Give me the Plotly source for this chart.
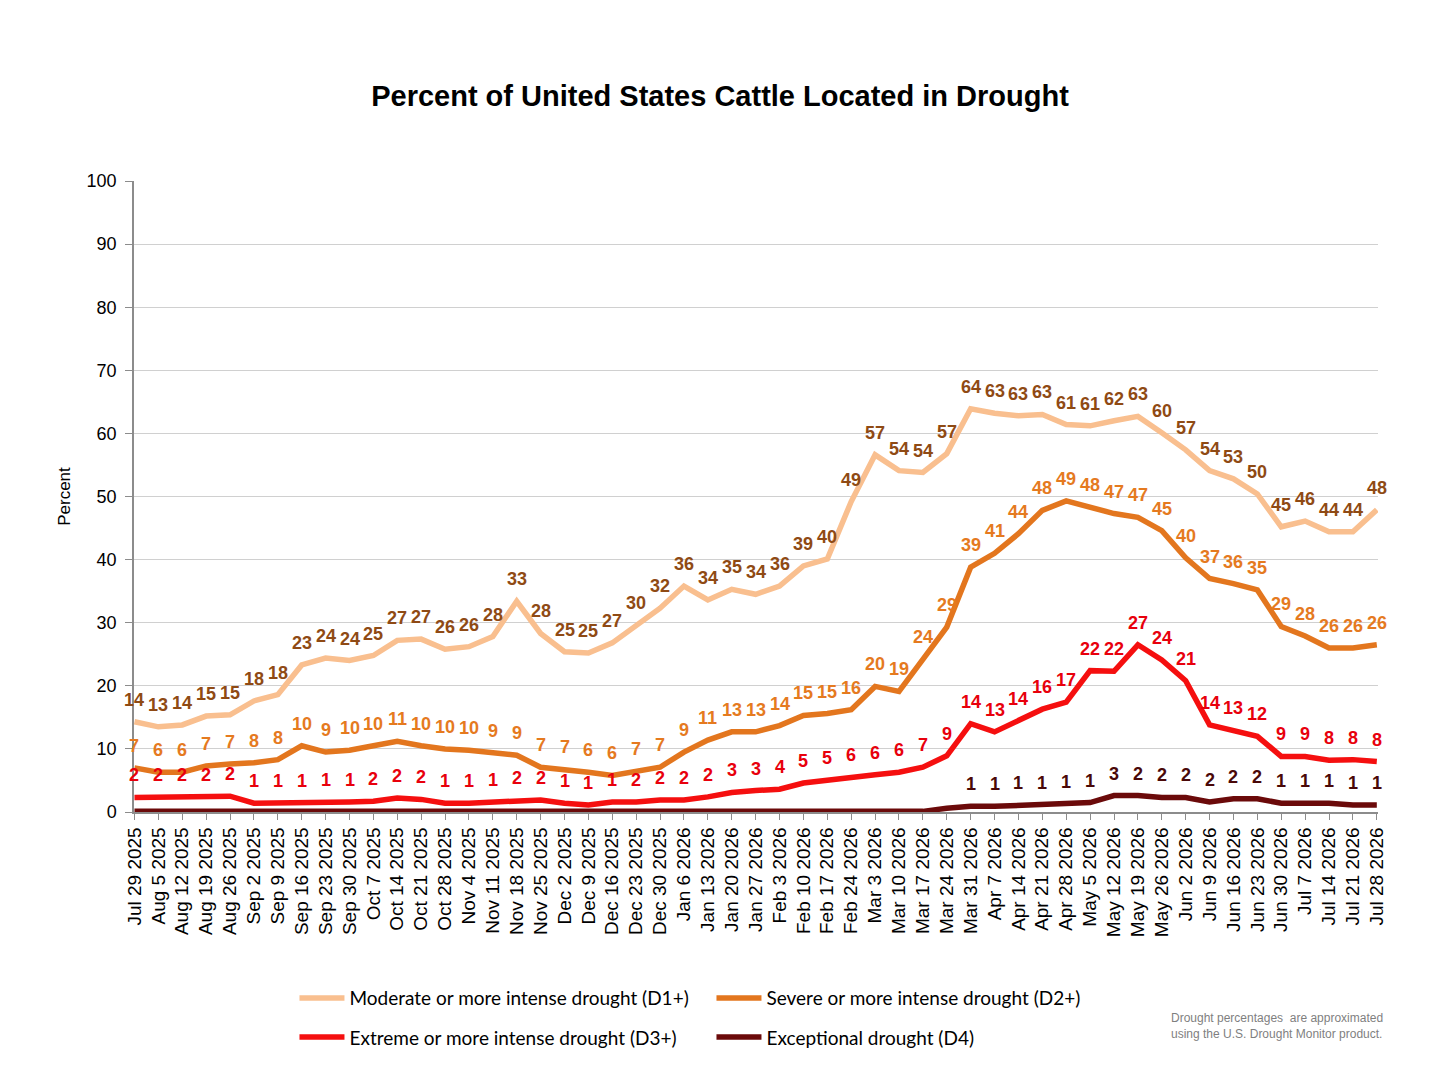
import plotly.graph_objects as go

dates = ["Jul 29 2025", "Aug 5 2025", "Aug 12 2025", "Aug 19 2025", "Aug 26 2025",
         "Sep 2 2025", "Sep 9 2025", "Sep 16 2025", "Sep 23 2025", "Sep 30 2025",
         "Oct 7 2025", "Oct 14 2025", "Oct 21 2025", "Oct 28 2025", "Nov 4 2025",
         "Nov 11 2025", "Nov 18 2025", "Nov 25 2025", "Dec 2 2025", "Dec 9 2025",
         "Dec 16 2025", "Dec 23 2025", "Dec 30 2025", "Jan 6 2026", "Jan 13 2026",
         "Jan 20 2026", "Jan 27 2026", "Feb 3 2026", "Feb 10 2026", "Feb 17 2026",
         "Feb 24 2026", "Mar 3 2026", "Mar 10 2026", "Mar 17 2026", "Mar 24 2026",
         "Mar 31 2026", "Apr 7 2026", "Apr 14 2026", "Apr 21 2026", "Apr 28 2026",
         "May 5 2026", "May 12 2026", "May 19 2026", "May 26 2026", "Jun 2 2026",
         "Jun 9 2026", "Jun 16 2026", "Jun 23 2026", "Jun 30 2026", "Jul 7 2026",
         "Jul 14 2026", "Jul 21 2026", "Jul 28 2026"]

d1 = [14.3, 13.5, 13.8, 15.2, 15.4, 17.6, 18.6, 23.3, 24.4, 24.0,
      24.8, 27.2, 27.4, 25.8, 26.2, 27.8, 33.4, 28.3, 25.4, 25.2,
      26.8, 29.6, 32.3, 35.8, 33.6, 35.3, 34.5, 35.8, 39.0, 40.1,
      49.2, 56.6, 54.1, 53.8, 56.8, 63.9, 63.2, 62.8, 63.0, 61.4,
      61.2, 62.0, 62.7, 60.1, 57.4, 54.1, 52.8, 50.4, 45.2, 46.1,
      44.4, 44.4, 47.9]
d2 = [7.0, 6.3, 6.3, 7.3, 7.6, 7.8, 8.3, 10.5, 9.5, 9.8,
      10.5, 11.2, 10.5, 10.0, 9.8, 9.3, 9.0, 7.1, 6.8, 6.3,
      5.8, 6.5, 7.1, 9.5, 11.4, 12.7, 12.7, 13.7, 15.3, 15.6,
      16.2, 19.9, 19.1, 24.2, 29.3, 38.8, 41.0, 44.1, 47.8, 49.3,
      48.3, 47.3, 46.7, 44.6, 40.3, 37.0, 36.2, 35.2, 29.4, 27.9,
      26.0, 26.0, 26.5]
d3 = [2.3, 2.3, 2.3, 2.3, 2.5, 1.4, 1.4, 1.4, 1.6, 1.6,
      1.7, 2.2, 2.0, 1.4, 1.4, 1.6, 1.9, 1.9, 1.4, 1.1,
      1.6, 1.6, 1.9, 1.9, 2.4, 3.1, 3.4, 3.6, 4.6, 5.1,
      5.6, 5.9, 6.3, 7.1, 8.9, 14.0, 12.7, 14.4, 16.3, 17.4,
      22.4, 22.3, 26.5, 24.1, 20.8, 13.8, 13.0, 12.0, 8.8, 8.8,
      8.2, 8.3, 8.0]
d4 = [0.1, 0.1, 0.1, 0.1, 0.1, 0.1, 0.1, 0.1, 0.1, 0.1,
      0.1, 0.1, 0.1, 0.1, 0.1, 0.1, 0.1, 0.1, 0.1, 0.1,
      0.1, 0.1, 0.1, 0.1, 0.1, 0.1, 0.1, 0.1, 0.1, 0.1,
      0.1, 0.1, 0.1, 0.1, 0.6, 0.9, 0.9, 1.1, 1.1, 1.3,
      1.5, 2.6, 2.6, 2.3, 2.3, 1.6, 2.1, 2.1, 1.4, 1.4,
      1.4, 1.1, 1.1]

d1_labels = [14, 13, 14, 15, 15, 18, 18, 23, 24, 24, 25, 27, 27, 26, 26, 28, 33, 28, 25, 25,
             27, 30, 32, 36, 34, 35, 34, 36, 39, 40, 49, 57, 54, 54, 57, 64, 63, 63, 63, 61,
             61, 62, 63, 60, 57, 54, 53, 50, 45, 46, 44, 44, 48]
d2_labels = [7, 6, 6, 7, 7, 8, 8, 10, 9, 10, 10, 11, 10, 10, 10, 9, 9, 7, 7, 6,
             6, 7, 7, 9, 11, 13, 13, 14, 15, 15, 16, 20, 19, 24, 29, 39, 41, 44, 48, 49,
             48, 47, 47, 45, 40, 37, 36, 35, 29, 28, 26, 26, 26]
d3_labels = [2, 2, 2, 2, 2, 1, 1, 1, 1, 1, 2, 2, 2, 1, 1, 1, 2, 2, 1, 1,
             1, 2, 2, 2, 2, 3, 3, 4, 5, 5, 6, 6, 6, 7, 9, 14, 13, 14, 16, 17,
             22, 22, 27, 24, 21, 14, 13, 12, 9, 9, 8, 8, 8]
d4_labels = [None] * 35 + [1, 1, 1, 1, 1, 1, 3, 2, 2, 2, 2, 2, 2, 1, 1, 1, 1, 1]

series_names = ["Moderate or more intense drought (D1+)",
                "Severe or more intense drought (D2+)",
                "Extreme or more intense drought (D3+)",
                "Exceptional drought (D4)"]
line_colors = ["#F9BF8F", "#E3761E", "#F50F0F", "#6B0A0A"]
label_colors = ["#8F4A14", "#E57A1F", "#E8000C", "#4A0808"]
legend_ids = ["legend", "legend", "legend2", "legend2"]

fig = go.Figure()
all_vals = [d1, d2, d3, d4]
all_labels = [d1_labels, d2_labels, d3_labels, d4_labels]

for name, vals, lc, lg in zip(series_names, all_vals, line_colors, legend_ids):
    fig.add_trace(go.Scatter(x=dates, y=vals, mode="lines", name=name, legend=lg,
                             line=dict(color=lc, width=5.5), hoverinfo="x+y"))

annotations = []
for vals, labs, tc in zip(all_vals, all_labels, label_colors):
    for xd, v, lab in zip(dates, vals, labs):
        if lab is None:
            continue
        annotations.append(dict(x=xd, y=v, xref="x", yref="y", text=f"<b>{lab}</b>",
                                showarrow=False, yshift=22, yanchor="middle",
                                font=dict(family="Liberation Sans, Arial", size=18, color=tc)))

annotations.append(dict(x=1.006, y=-0.312, xref="paper", yref="paper",
                        xanchor="right", yanchor="top", align="left", showarrow=False,
                        text="Drought percentages  are approximated<br>using the U.S. Drought Monitor product.",
                        font=dict(family="Liberation Sans Narrow, Liberation Sans, Arial",
                                  size=12, color="#7F7F7F")))

legend_common = dict(orientation="h", xanchor="left", yanchor="middle",
                     entrywidth=357, entrywidthmode="pixels", itemwidth=45,
                     bgcolor="rgba(0,0,0,0)",
                     font=dict(family="Lato, Open Sans", size=19, color="black"))

fig.update_layout(
    width=1442, height=1080,
    paper_bgcolor="white", plot_bgcolor="white",
    margin=dict(l=126, r=72, t=173, b=276),
    title=dict(text="<b>Percent of United States Cattle Located in Drought</b>",
               x=(720 - 8) / 1442, xanchor="center", y=1 - 88 / 1080, yanchor="middle",
               font=dict(family="Liberation Sans, Arial", size=29, color="black")),
    font=dict(family="Liberation Sans, Arial", color="black"),
    showlegend=True,
    legend=dict(x=0.129, y=-0.295, **legend_common),
    legend2=dict(x=0.129, y=-0.357, **legend_common),
    annotations=annotations,
    xaxis=dict(type="category", range=[-0.02, 52.05], tickangle=-90,
               tickfont=dict(family="Liberation Sans, Arial", size=19, color="black"),
               showline=True, linecolor="#8C8C8C", linewidth=1.5,
               ticks="outside", ticklen=6, tickcolor="#8C8C8C",
               showgrid=False, zeroline=False),
    yaxis=dict(range=[0, 100], dtick=10, tick0=0,
               tickfont=dict(family="Liberation Sans, Arial", size=18, color="black"),
               showline=True, linecolor="#8C8C8C", linewidth=1.5,
               ticks="outside", ticklen=7, tickcolor="#8C8C8C", ticklabelstandoff=5,
               showgrid=True, gridcolor="#D0D0D0", gridwidth=1, zeroline=False,
               title=dict(text="Percent", standoff=12,
                          font=dict(family="Liberation Sans, Arial", size=17, color="black"))),
)

fig.write_html("out.html")
